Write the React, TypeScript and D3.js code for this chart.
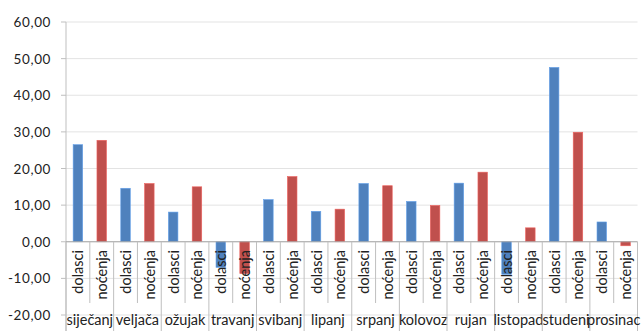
import React from "react";
import * as d3 from "d3";

// Monthly index change (%) for tourist arrivals and overnight stays
const months = [
  "siječanj", "veljača", "ožujak", "travanj", "svibanj", "lipanj",
  "srpanj", "kolovoz", "rujan", "listopad", "studeni", "prosinac",
];
const seriesNames = ["dolasci", "noćenja"];
const dolasci = [26.5, 14.6, 8.1, -7.0, 11.5, 8.3, 15.9, 11.0, 16.0, -8.9, 47.6, 5.4];
const nocenja = [27.7, 15.9, 15.0, -8.7, 17.8, 8.9, 15.3, 9.9, 19.0, 3.8, 29.9, -1.1];
const yTicks = [-20, -10, 0, 10, 20, 30, 40, 50, 60];
const colors = ["#4F81BD", "#C0504D"];

const W = 642;
const H = 331;
const FONT = "Lato, 'Open Sans', sans-serif";

export default function App() {
  const left = 66;
  const right = 637.5;
  const top = 22;
  const bottom = 315;

  const y = d3.scaleLinear().domain([-20, 60]).range([bottom, top]);
  const x = d3.scaleBand<string>().domain(months).range([left, right]).padding(0);
  const sub = d3.scaleBand<string>().domain(seriesNames).range([0, x.bandwidth()]).padding(0);
  const barW = sub.bandwidth() * 0.4;
  const fmt = (v: number) => d3.format(".2f")(v).replace(".", ",").replace("−", "-");
  const values = [dolasci, nocenja];
  const y0 = y(0);

  return (
    <svg
      width={W}
      height={H}
      style={{ position: "absolute", left: 0, top: 0, background: "#fff" }}
      fontFamily={FONT}
    >
      {/* gridlines */}
      {yTicks.map((t) => (
        <line key={"g" + t} x1={left} x2={right} y1={y(t)} y2={y(t)} stroke="#E3E3E3" strokeWidth={1} />
      ))}
      {/* y axis */}
      <line x1={left} x2={left} y1={top} y2={H} stroke="#BFBFBF" />
      {yTicks.map((t) => (
        <g key={"t" + t}>
          <line x1={left - 5} x2={left} y1={y(t)} y2={y(t)} stroke="#BFBFBF" />
          <text
            x={51}
            y={y(t)}
            textAnchor="end"
            dominantBaseline="central"
            fontSize={13.5}
            letterSpacing={0.6}
            fill="#222"
          >
            {fmt(t)}
          </text>
        </g>
      ))}
      {/* bars */}
      {months.map((m, i) =>
        seriesNames.map((s, j) => {
          const v = values[j][i];
          const bx = (x(m) as number) + (sub(s) as number) + (sub.bandwidth() - barW) / 2;
          return (
            <rect
              key={m + s}
              x={bx}
              y={Math.min(y(v), y0)}
              width={barW}
              height={Math.abs(y(v) - y0)}
              fill={colors[j]}
              stroke={d3.color(colors[j])!.brighter(0.6).toString()}
              strokeWidth={0.6}
            />
          );
        })
      )}
      {/* category axis at zero */}
      <line x1={left} x2={right} y1={y0} y2={y0} stroke="#A6A6A6" />
      {months.map((m, i) => {
        const gx = x(m) as number;
        return (
          <g key={"c" + m}>
            <line x1={gx} x2={gx} y1={y0} y2={H} stroke="#BFBFBF" />
            {i === months.length - 1 && (
              <line x1={gx + x.bandwidth()} x2={gx + x.bandwidth()} y1={y0} y2={H} stroke="#BFBFBF" />
            )}
            <line
              x1={gx + (sub(seriesNames[1]) as number)}
              x2={gx + (sub(seriesNames[1]) as number)}
              y1={y0}
              y2={303}
              stroke="#BFBFBF"
            />
            {seriesNames.map((s) => {
              const cx = gx + (sub(s) as number) + sub.bandwidth() / 2;
              return (
                <text
                  key={s}
                  transform={`translate(${cx},${250}) rotate(-90)`}
                  textAnchor="end"
                  dominantBaseline="central"
                  fontSize={14.5}
                  fill="#222"
                >
                  {s}
                </text>
              );
            })}
            <text x={gx + x.bandwidth() / 2} y={325} textAnchor="middle" fontSize={14.5} fill="#222">
              {m}
            </text>
          </g>
        );
      })}
    </svg>
  );
}
